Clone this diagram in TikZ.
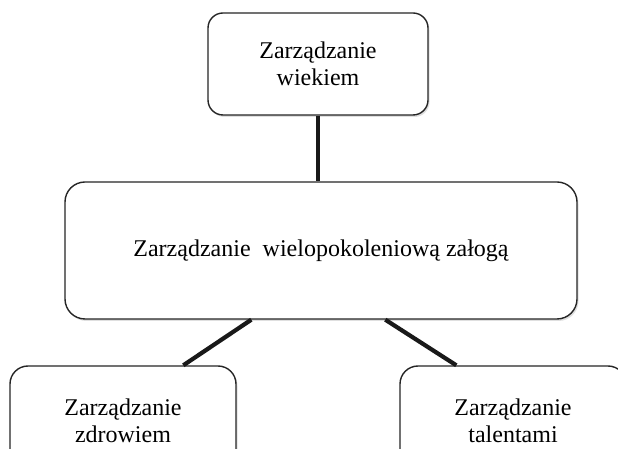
\documentclass[tikz,border=0pt]{standalone}
\usepackage{fontspec}
\setmainfont{Liberation Serif}
\usetikzlibrary{shadows}
\begin{document}
\begin{tikzpicture}[x=1pt,y=1pt,
  boxstyle/.style={draw=black!85, line width=1.4pt, fill=white, align=center,
    font=\fontsize{24}{27}\selectfont, inner sep=0pt,
    drop shadow={opacity=0.25, shadow xshift=1.5pt, shadow yshift=-2pt}},
  linkstyle/.style={line width=4.2pt, draw=black!90}]
\useasboundingbox (0,0) rectangle (618,449);
\clip (0,0) rectangle (618,449);
\fill[white] (0,0) rectangle (618,449);
\node[boxstyle, rounded corners=15pt, minimum width=220pt, minimum height=102pt] (top) at (318,385) {Zarządzanie\\wiekiem};
\node[boxstyle, rounded corners=20pt, minimum width=512pt, minimum height=137pt] (mid) at (321,198.5) {Zarządzanie \ wielopokoleniową załogą};
\node[boxstyle, rounded corners=18pt, minimum width=226pt, minimum height=110pt] (left) at (123,28) {Zarządzanie\\zdrowiem};
\node[boxstyle, rounded corners=18pt, minimum width=226pt, minimum height=110pt] (right) at (513,28) {Zarządzanie\\talentami};
\draw[linkstyle] (top.south) -- (top.south |- mid.north);
\draw[linkstyle] ([xshift=187pt]mid.south west) -- ([xshift=174pt]left.north west);
\draw[linkstyle] ([xshift=321pt]mid.south west) -- ([xshift=57pt]right.north west);
\end{tikzpicture}
\end{document}
